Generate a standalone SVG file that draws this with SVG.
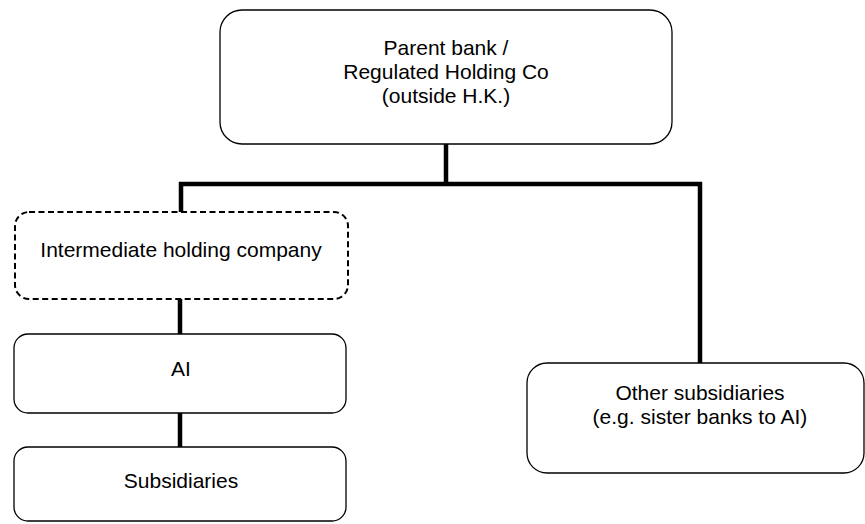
<svg xmlns="http://www.w3.org/2000/svg" width="865" height="524" viewBox="0 0 865 524">
<style>
.box{fill:#fff;stroke:#000;stroke-width:1.3}
.dash{stroke-dasharray:6 3.5;stroke-width:2}
.conn{fill:none;stroke:#000;stroke-width:4.5}
text{font-family:"Liberation Sans",Arial,sans-serif;font-size:21px;fill:#000;text-anchor:middle}
</style>
<g id="connectors">
<path class="conn" d="M446 144V184M181 212V184H700V363"/>
<path class="conn" d="M180 299V334M180 413V447"/>
</g>
<g id="parent">
<rect class="box" x="220" y="10" width="452" height="134" rx="22"/>
<text x="446" y="55">Parent bank /</text>
<text x="446" y="79">Regulated Holding Co</text>
<text x="446" y="103">(outside H.K.)</text>
</g>
<g id="intermediate">
<rect class="box dash" x="15" y="212" width="333" height="87" rx="14"/>
<text x="181" y="257">Intermediate holding company</text>
</g>
<g id="ai">
<rect class="box" x="14" y="334" width="332" height="79" rx="14"/>
<text x="181" y="376">AI</text>
</g>
<g id="subsidiaries">
<rect class="box" x="14" y="447" width="332" height="74" rx="14"/>
<text x="181" y="488">Subsidiaries</text>
</g>
<g id="other">
<rect class="box" x="527" y="363" width="337" height="110" rx="20"/>
<text x="700" y="400">Other subsidiaries</text>
<text x="700" y="424">(e.g. sister banks to AI)</text>
</g>
</svg>
